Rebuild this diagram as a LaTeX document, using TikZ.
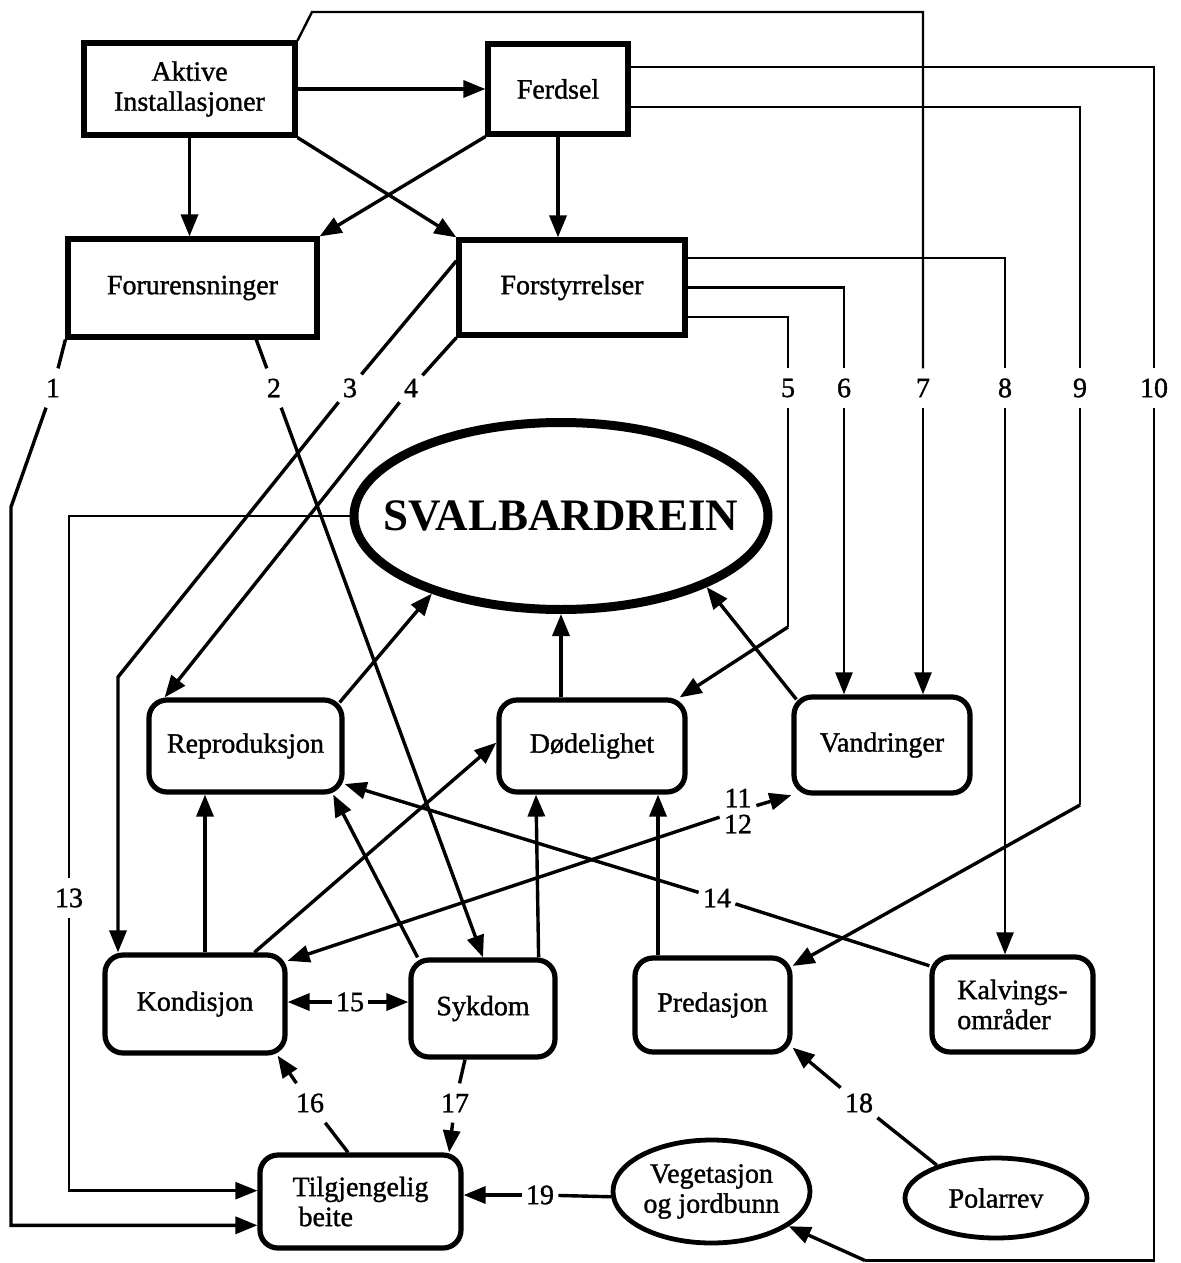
\documentclass[tikz,border=0pt]{standalone}
\usepackage{fontspec}
\setmainfont{Liberation Serif}
\newfontfamily\dfont[FakeBold=1.2]{Liberation Serif}
\usetikzlibrary{arrows.meta,shapes.geometric,calc}
\newcommand\dtxt{\dfont\fontsize{14}{15}\selectfont}
\newcommand\dnum{\dfont\fontsize{14}{13}\selectfont}
\newcommand\dbig{\fontsize{22.5}{26}\selectfont\bfseries}
\begin{document}
\begin{tikzpicture}[x=0.5pt,y=-0.5pt,
  box/.style={draw,line width=2.6pt,inner sep=0pt,align=center,font=\dtxt},
  rbox/.style={box,rounded corners=9pt},
  ell/.style={draw,ellipse,line width=2.4pt,inner sep=0pt,align=center,font=\dtxt},
  num/.style={inner xsep=2pt,inner ysep=5pt,font=\dtxt},
  ln/.style={line width=1.7pt},
  thn/.style={line width=1.2pt},
  tip/.style={-{Triangle[length=11pt,width=8.5pt]}},
]
\useasboundingbox (0,0) rectangle (1180,1263);

% ---- sources of impact
\node[box,minimum width=105.5pt,minimum height=46pt] (akt) at (189.5,89) {Aktive\\Installasjoner};
\node[box,minimum width=70pt,minimum height=45pt] (ferd) at (558,89) {Ferdsel};
\node[box,minimum width=124.5pt,minimum height=49pt] (foru) at (192.5,288) {Forurensninger};
\node[box,minimum width=113pt,minimum height=47.5pt] (forst) at (572,287.5) {Forstyrrelser};

% ---- the population
\node[draw,ellipse,line width=4.5pt,minimum width=207pt,minimum height=93.5pt,
      inner xsep=-40pt,inner ysep=0pt,font=\dbig] (svalb) at (561,516) {SVALBARDREIN};

% ---- population parameters
\node[rbox,minimum width=96.5pt,minimum height=46pt] (repr) at (245.5,746) {Reproduksjon};
\node[rbox,minimum width=93pt,minimum height=46pt] (dode) at (592,746) {Dødelighet};
\node[rbox,minimum width=88pt,minimum height=48pt] (vand) at (882,745) {Vandringer};

% ---- factors
\node[rbox,minimum width=90pt,minimum height=49pt] (kond) at (195,1004) {Kondisjon};
\node[rbox,minimum width=72pt,minimum height=48.5pt] (sykd) at (483,1008.5) {Sykdom};
\node[rbox,minimum width=77.5pt,minimum height=47pt] (pred) at (712.5,1005) {Predasjon};
\node[rbox,minimum width=80.5pt,minimum height=47.5pt,align=left] (kalv) at (1012.5,1004.5) {Kalvings-\\områder};
\node[rbox,minimum width=100.5pt,minimum height=46.5pt,align=left] (tilg) at (360.5,1201.5) {Tilgjengelig\\\hspace*{3pt}beite};
\node[ell,minimum width=98.5pt,minimum height=51.5pt] (veg) at (711.5,1191.5) {Vegetasjon\\og jordbunn};
\node[ell,minimum width=91pt,minimum height=40pt] (pol) at (996,1198) {Polarrev};

% ---- numbered links
\node[num] (l1) at (53,388) {1};
\node[num] (l2) at (274,388) {2};
\node[num] (l3) at (350,388) {3};
\node[num] (l4) at (411,388) {4};
\node[num] (l5) at (788,388) {5};
\node[num] (l6) at (844,388) {6};
\node[num] (l7) at (923,388) {7};
\node[num] (l8) at (1005,388) {8};
\node[num] (l9) at (1080,388) {9};
\node[num] (l10) at (1154,388) {10};
\node[inner sep=2pt,align=center,font=\dnum] (l11) at (738,811) {11\\12};
\node[num] (l13) at (69,898) {13};
\node[num] (l14) at (717,898) {14};
\node[num,inner ysep=2pt] (l15) at (350,1002) {15};
\node[num] (l16) at (310,1103) {16};
\node[num] (l17) at (455,1103) {17};
\node[num] (l18) at (859,1103) {18};
\node[num,inner ysep=2pt] (l19) at (540,1195) {19};

% bends of the routed lines
\coordinate (b1) at (11,507);
\coordinate (b3) at (118,677);
\coordinate (b5) at (788,627);
\coordinate (b9) at (1080,805);
\coordinate (b10) at (865,1260.5);

% ---- top level
\draw[ln,tip] (akt) -- (ferd);
\draw[ln,tip] (akt.south) -- (akt.south |- foru.north);
\draw[ln,tip] (akt.south east) -- (forst.north west);
\draw[ln,tip] (ferd.south west) -- (foru.north east);
\draw[ln,tip] (ferd.south) -- (ferd.south |- forst.north);

% ---- 1 and 2 from Forurensninger
\draw[ln] (foru.south west) -- (l1);
\draw[ln,tip] (l1) -- (b1) |- (tilg.193);
\draw[ln] (foru.-39) -- (l2);
\draw[ln,tip] (l2) -- (sykd.north);

% ---- 3 to 6 and 8 from Forstyrrelser
\draw[ln] (forst.167) -- (l3);
\draw[ln,tip] (l3) -- (b3) -- (b3 |- kond.north);
\draw[ln] (forst.south west) -- (l4);
\draw[ln,tip] (l4) -- (repr.149);
\draw[thn] ($(forst.east)+(0,29.5)$) -| (l5);
\draw[thn] (l5) -- (b5);
\draw[ln,tip] (b5) -- (dode.29);
\draw[thn] (forst.east) -| (l6);
\draw[thn,tip] (l6) -- (l6 |- vand.north);
\draw[thn] ($(forst.east)+(0,-29.5)$) -| (l8);
\draw[thn,tip] (l8) -- (l8 |- kalv.north);

% ---- 7 from Aktive Installasjoner
\draw[thn] (akt.north east) -- (312,12) -| (l7);
\draw[thn,tip] (l7) -- (l7 |- vand.north);

% ---- 9 and 10 from Ferdsel
\draw[thn] ($(ferd.east)+(0,18)$) -| (l9);
\draw[thn] (l9) -- (b9);
\draw[ln,tip] (b9) -- (pred.26);
\draw[thn] ($(ferd.east)+(0,-22)$) -| (l10);
\draw[thn] (l10) |- (b10);
\draw[ln,tip] (b10) -- (veg);

% ---- 13 from the population back to grazing
\draw[thn] (svalb.west) -| (l13);
\draw[thn,tip] (l13) |- (tilg.174);

% ---- parameters into the population
\draw[ln,tip] ($(repr.north east)+(-5,5)$) -- (svalb.211);
\draw[ln,tip] (svalb.south |- dode.north) -- (svalb.south);
\draw[ln,tip] ($(vand.north west)+(5,5)$) -- (svalb.334);

% ---- factors into parameters
\draw[ln,tip] ($(kond.north)+(10,0)$) -- ($(repr.south)+(-40.5,0)$);
\draw[ln,tip] (sykd.142) -- (repr.-29);
\draw[ln,tip] (kond.41) -- (dode.178);
\draw[ln,tip] ($(sykd.north east)+(-19,0)$) -- ($(dode.south)+(-56,0)$);
\draw[ln,tip] ($(pred.north)+(-54.5,0)$) -- ($(dode.south)+(66,0)$);
\draw[ln,tip] (l11) -- (kond.25);
\draw[ln,tip] (l11) -- (vand.209);
\draw[ln] (kalv.155) -- (l14);
\draw[ln,tip] (l14) -- (repr.-21);
\draw[ln,tip] (l15) -- (l15 -| kond.east);
\draw[ln,tip] (l15) -- (l15 -| sykd.west);

% ---- grazing, fox and vegetation
\draw[ln] ($(tilg.north)+(-12.5,0)$) -- (l16);
\draw[ln,tip] (l16) -- (kond.-32);
\draw[ln] ($(sykd.south)+(-18,0)$) -- (l17);
\draw[ln,tip] (l17) -- (tilg.29);
\draw[ln] (pol.151) -- (l18);
\draw[ln,tip] (l18) -- (pred.-28);
\draw[ln] (veg.183) -- (l19);
\draw[ln,tip] (l19) -- (l19 -| tilg.east);
\end{tikzpicture}
\end{document}
